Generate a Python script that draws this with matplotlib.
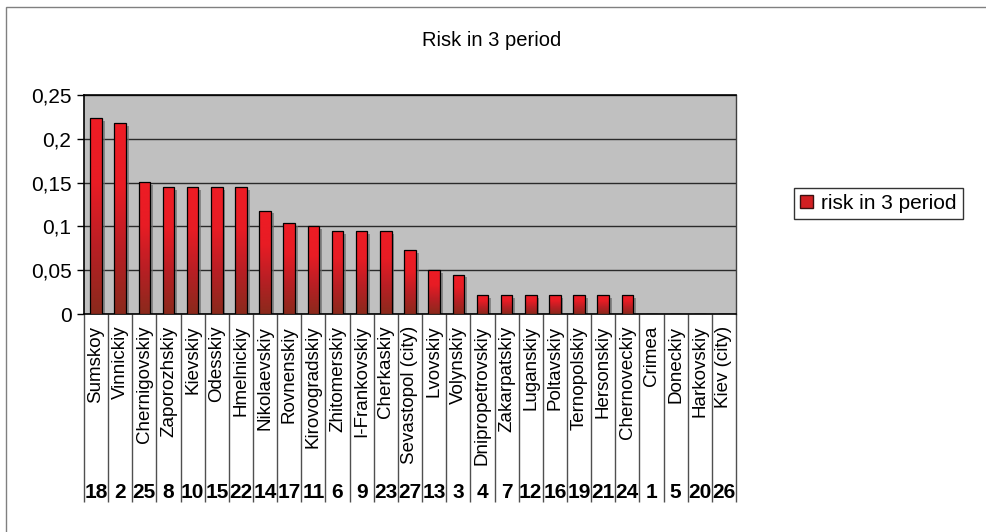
import numpy as np
import matplotlib
matplotlib.use('Agg')
import matplotlib.pyplot as plt
from matplotlib.colors import LinearSegmentedColormap
from matplotlib.patches import Rectangle
from matplotlib.ticker import FuncFormatter
import matplotlib.patheffects as pe
import matplotlib.transforms as mtransforms

plt.rcParams['font.family'] = ['Liberation Sans', 'DejaVu Sans']

regions = ['Sumskoy', 'Vinnickiy', 'Chernigovskiy', 'Zaporozhskiy', 'Kievskiy',
           'Odesskiy', 'Hmelnickiy', 'Nikolaevskiy', 'Rovnenskiy', 'Kirovogradskiy',
           'Zhitomerskiy', 'I-Frankovskiy', 'Cherkaskiy', 'Sevastopol (city)',
           'Lvovskiy', 'Volynskiy', 'Dnipropetrovskiy', 'Zakarpatskiy', 'Luganskiy',
           'Poltavskiy', 'Ternopolskiy', 'Hersonskiy', 'Chernoveckiy', 'Crimea',
           'Doneckiy', 'Harkovskiy', 'Kiev (city)']
codes = [18, 2, 25, 8, 10, 15, 22, 14, 17, 11, 6, 9, 23, 27, 13, 3, 4, 7, 12, 16,
         19, 21, 24, 1, 5, 20, 26]
risk = [0.224, 0.218, 0.151, 0.145, 0.145, 0.145, 0.145, 0.118, 0.104, 0.100,
        0.095, 0.095, 0.095, 0.073, 0.050, 0.045, 0.022, 0.022, 0.022, 0.022,
        0.022, 0.022, 0.022, 0.0, 0.0, 0.0, 0.0]
yticks = [0, 0.05, 0.1, 0.15, 0.2, 0.25]

bar_cmap = LinearSegmentedColormap.from_list(
    'bar', ['#8a2a1c', '#b81f24', '#e81c24', '#ee1c25'])

fig = plt.figure(figsize=(9.87, 5.32), dpi=100)
fig.patch.set_facecolor('white')

# outer chart frame
fig.patches.append(Rectangle((6 / 987, -0.05), 1.1, 1.05 - 7 / 532,
                             transform=fig.transFigure, fill=False,
                             edgecolor='#808080', linewidth=1.0))

ax = fig.add_axes([84 / 987, (532 - 314) / 532, (736 - 84) / 987, 219 / 532])
ax.set_facecolor('#c0c0c0')

x = np.arange(len(regions))
w = 0.48

# shadows, gradient fills, outlines
ax.bar(x, risk, w, color='#808080', edgecolor='none', zorder=2,
       path_effects=[pe.SimplePatchShadow(offset=(2, -2), shadow_rgbFace='#6e6e6e',
                                          alpha=0.7)])
outlines = ax.bar(x, risk, w, facecolor='none', edgecolor='black',
                  linewidth=0.9, zorder=4)
grad = np.linspace(0, 1, 256).reshape(-1, 1)
for b, v in zip(outlines, risk):
    if v <= 0:
        continue
    x0 = b.get_x()
    im = ax.imshow(grad, cmap=bar_cmap, origin='lower', aspect='auto',
                   extent=[x0, x0 + b.get_width(), 0, v], zorder=3)
    im.set_clip_path(b)

ax.set_xlim(-0.5, len(regions) - 0.5)
ax.set_ylim(0, 0.25)
ax.set_yticks(yticks)
ax.yaxis.set_major_formatter(FuncFormatter(lambda v, p: f'{v:g}'.replace('.', ',')))
ax.yaxis.grid(True, color='#2a2a2a', linewidth=1.0)
ax.set_axisbelow(True)
ax.tick_params(axis='y', length=5, width=1, labelsize=15, pad=4)

ax.set_xticks(x)
ax.set_xticklabels(regions, rotation=90, fontsize=13.5)
ax.tick_params(axis='x', length=0, pad=8.5)

for side in ['left', 'bottom', 'top']:
    ax.spines[side].set_color('black')
    ax.spines[side].set_linewidth(1.2)
ax.spines['right'].set_color('#404040')
ax.spines['right'].set_linewidth(1.0)

# category separators and second-level labels
trans = mtransforms.blended_transform_factory(ax.transData, ax.transAxes)
ax.vlines(np.arange(len(regions) + 1) - 0.5, -0.86, 0, transform=trans,
          color='#505050', linewidth=1.0, clip_on=False)
for xi, c in zip(x, codes):
    ax.text(xi, -0.813, str(c), transform=trans, ha='center', va='center',
            fontsize=15, fontweight='bold')

fig.text(492 / 987, 1 - 41 / 532, 'Risk in 3 period', ha='center', va='center',
         fontsize=14.5)

handle = Rectangle((0, 0), 1, 1, facecolor='#d21f22', edgecolor='#3a1010')
leg = fig.legend([handle], ['risk in 3 period'], loc='center',
                 bbox_to_anchor=(878.5 / 987, 1 - 203.5 / 532), fontsize=15,
                 frameon=True, fancybox=False, handlelength=0.6, handleheight=0.6,
                 handletextpad=0.4, borderpad=0.3, borderaxespad=0)
leg.get_frame().set_edgecolor('black')
leg.get_frame().set_linewidth(1.0)

fig.savefig('out.png', dpi=100)
